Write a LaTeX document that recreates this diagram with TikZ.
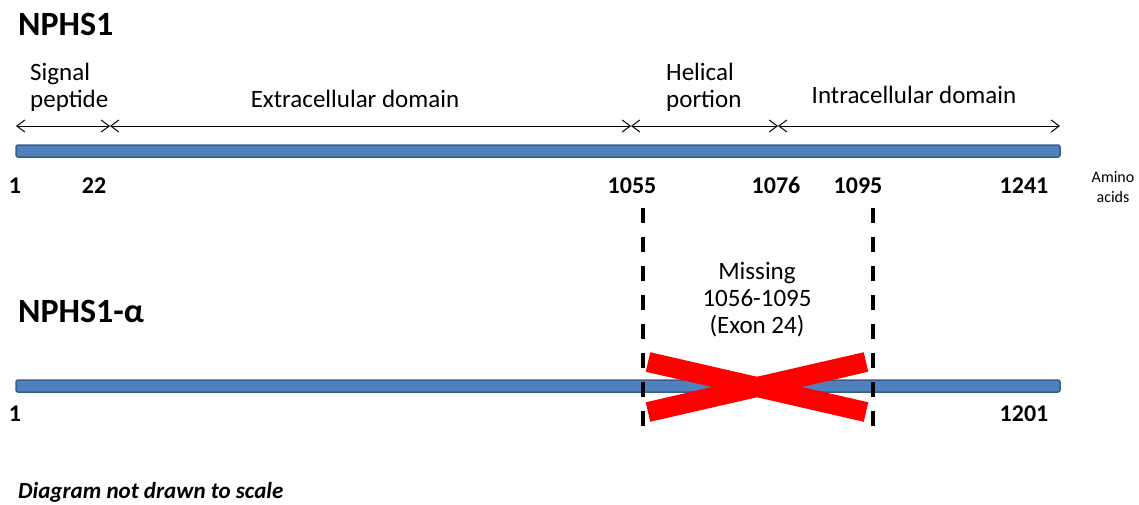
\documentclass[tikz,border=0pt]{standalone}
\usepackage{fontspec}
\setmainfont{Carlito}
\usetikzlibrary{positioning,arrows.meta}

\definecolor{barblue}{RGB}{79,129,189}
\definecolor{baredge}{RGB}{56,93,138}

\begin{document}
\begin{tikzpicture}[x=1pt, y=-1pt, >={Straight Barb[length=8pt,width=12pt]},
    lbl/.style={font=\fontsize{25}{27}\selectfont, align=center, inner sep=0pt},
    num/.style={font=\fontsize{24}{27}\selectfont\bfseries, inner sep=0pt, anchor=base},
    title/.style={font=\fontsize{34}{36}\selectfont\bfseries, inner sep=0pt, anchor=base west},
    bar/.style={fill=barblue, draw=baredge, line width=1.5pt, rounded corners=2pt}]
    \useasboundingbox (0,0) rectangle (1139,504);

    % Titles
    \node[title] (full) at (18,35) {NPHS1};
    \node[title] (alpha) at (18,322) {NPHS1-α};

    % Protein bars
    \draw[bar] (16,145) rectangle (1060,157);
    \draw[bar] (16,380) rectangle (1060,392);

    % Domain arrows
    \coordinate (p1) at (16,126);
    \coordinate (p22) at (110,126);
    \coordinate (p1055) at (631,126);
    \coordinate (p1076) at (778,126);
    \coordinate (p1241) at (1060,126);
    \draw[<->, line width=1pt] (p1) -- (p22);
    \draw[<->, line width=1pt] (p22) -- (p1055);
    \draw[<->, line width=1pt] (p1055) -- (p1076);
    \draw[<->, line width=1pt] (p1076) -- (p1241);

    % Domain labels
    \node[lbl, align=left, anchor=south west] (sig) at (30,112) {Signal\\peptide};
    \node[lbl, anchor=base] (extra) at (355,107) {Extracellular domain};
    \node[lbl, align=left, anchor=south west] (helix) at (666,112) {Helical\\portion};
    \node[lbl, anchor=base] (intra) at (914,103) {Intracellular domain};

    % Residue numbers
    \node[num] (n1) at (15,193) {1};
    \node[num] (n22) at (94,193) {22};
    \node[num] (n1055) at (632,193) {1055};
    \node[num] (n1076) at (776,193) {1076};
    \node[num] (n1095) at (858,193) {1095};
    \node[num] (n1241) at (1024,193) {1241};
    \node[font=\fontsize{16}{20}\selectfont, align=center, inner sep=0pt] (aa) at (1113,187) {Amino\\acids};
    \node[num] (m1) at (15,421) {1};
    \node[num] (m1201) at (1024,421) {1201};

    % Deleted exon
    \coordinate (dl1) at (643,208);
    \coordinate (dl2) at (643,426);
    \coordinate (dr1) at (873,208);
    \coordinate (dr2) at (873,426);
    \draw[line width=3.5pt, dash pattern=on 15pt off 14pt] (dl1) -- (dl2);
    \draw[line width=3.5pt, dash pattern=on 15pt off 14pt] (dr1) -- (dr2);
    \node[lbl] (miss) at (757,300) {Missing\\1056-1095\\(Exon 24)};

    % Red cross
    \coordinate (x1) at (648,362);
    \coordinate (x2) at (866,412);
    \coordinate (x3) at (648,412);
    \coordinate (x4) at (866,362);
    \draw[red, line width=20pt] (x1) -- (x2);
    \draw[red, line width=20pt] (x3) -- (x4);

    \node[font=\fontsize{23}{25}\selectfont\bfseries\itshape, anchor=base west, inner sep=0pt] (note) at (18,498) {Diagram not drawn to scale};
\end{tikzpicture}
\end{document}
